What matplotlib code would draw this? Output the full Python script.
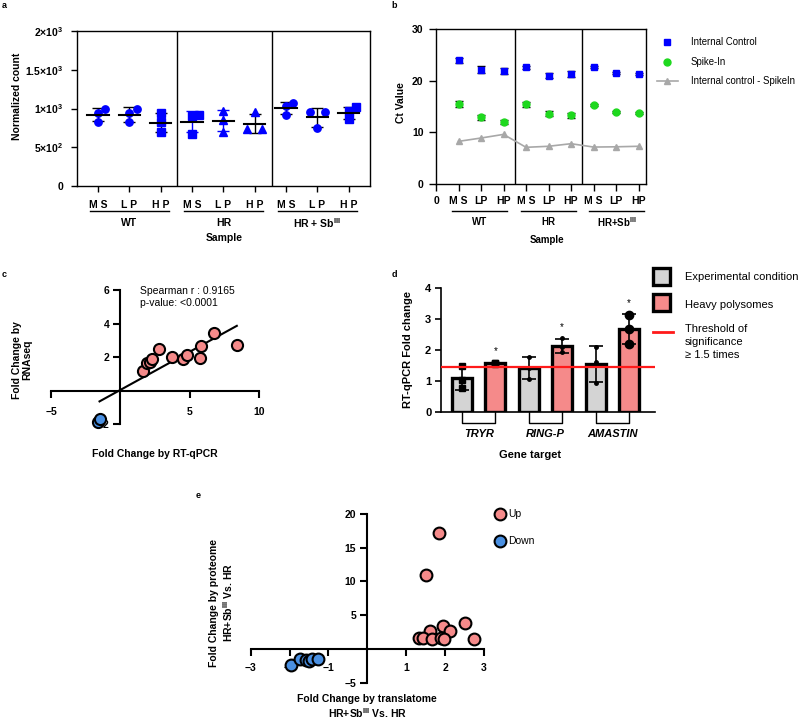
import numpy as np
import matplotlib.pyplot as plt
from matplotlib.patches import Rectangle
from matplotlib.lines import Line2D

plt.rcParams['font.family'] = ['Liberation Sans', 'DejaVu Sans']
plt.rcParams['mathtext.fontset'] = 'custom'
plt.rcParams['mathtext.rm'] = 'Liberation Sans'
plt.rcParams['mathtext.bf'] = 'Liberation Sans:bold'
plt.rcParams['axes.linewidth'] = 1.0
plt.rcParams['xtick.major.width'] = 1.0
plt.rcParams['ytick.major.width'] = 1.0

BLUE = '#0000ff'
GREEN = '#1ed81e'
GREY = '#a8a8a8'
PINK = '#f58a8a'
LBLUE = '#4a90e2'
RED = '#ff1a1a'
BARGREY = '#d4d4d4'

# ---------------- data ----------------
# a: normalized counts, 3 replicates per fraction
a_groups = ['WT', 'HR', r'HR + Sb$^{\mathbf{III}}$']
a_fractions = ['M S', 'L P', 'H P']
a_values = [
    [944, 995, 823],    # WT MS
    [944, 1000, 820],   # WT LP
    [936, 823, 698],    # WT HP
    [901, 918, 677],    # HR MS
    [970, 858, 703],    # HR LP
    [953, 733, 733],    # HR HP
    [1030, 1073, 918],  # HR+Sb MS
    [953, 953, 746],    # HR+Sb LP
    [965, 1013, 862],   # HR+Sb HP
]
a_markers = ['o', 'o', 's', 's', '^', '^', 'o', 'o', 's']
a_jitter = [[0, .21, 0], [0, .23, 0], [0, 0, 0], [0, .22, 0], [0, 0, 0],
            [0, -.23, .23], [0, .23, 0], [-.23, .23, 0], [0, .23, 0]]
a_errcol = ['k', 'k', 'k', BLUE, BLUE, 'k', 'k', 'k', 'k']

# b: Ct values
b_groups = ['WT', 'HR', r'HR+Sb$^{\mathbf{III}}$']
b_fractions = ['M S', 'LP', 'HP']
b_ic = [23.95, 22.1, 21.9, 22.6, 21.0, 21.25, 22.6, 21.4, 21.25]
b_ic_err = [0.5, 0.7, 0.6, 0.3, 0.4, 0.6, 0.2, 0.2, 0.2]
b_spike = [15.5, 12.9, 12.0, 15.45, 13.6, 13.3, 15.3, 14.0, 13.7]
b_spike_err = [0.5, 0.5, 0.4, 0.5, 0.5, 0.5, 0.2, 0.2, 0.2]
b_diff = [8.25, 8.9, 9.6, 7.1, 7.3, 7.8, 7.15, 7.2, 7.3]

# c: RT-qPCR vs RNAseq
c_up_x = [1.63, 1.95, 2.12, 2.31, 2.76, 3.72, 4.49, 4.80, 5.72, 5.84, 6.78, 8.41]
c_up_y = [1.19, 1.62, 1.68, 1.88, 2.47, 2.00, 1.86, 2.14, 1.94, 2.63, 3.46, 2.73]
c_down_x = [-1.62, -1.50]
c_down_y = [-1.88, -1.68]
c_fit_x = [-1.5, 8.4]
c_fit_y = [-0.65, 3.86]

# d: polysome RT-qPCR
d_genes = ['TRYR', 'RING-P', 'AMASTIN']
d_exp = [[1.50, 1.02, 0.77], [1.76, 1.41, 1.07], [2.10, 1.60, 0.95]]
d_heavy = [[1.59, 1.57, 1.55], [2.38, 2.10, 1.93], [3.14, 2.69, 2.18]]
d_threshold = 1.45

# e: translatome vs proteome
e_up_x = [1.85, 1.50, 1.62, 1.94, 2.13, 2.50, 2.74, 1.34, 1.43, 1.66, 1.90, 1.97]
e_up_y = [17.2, 11.0, 2.6, 3.47, 2.6, 3.86, 1.49, 1.58, 1.58, 1.49, 1.58, 1.49]
e_down_x = [-1.97, -1.72, -1.58, -1.50, -1.42, -1.28]
e_down_y = [-2.4, -1.5, -1.6, -1.8, -1.5, -1.55]

# ---------------- figure ----------------
W, H = 800, 721
fig = plt.figure(figsize=(8, 7.21), dpi=100)


def box(l, t, r, b):
    return fig.add_axes([l / W, 1 - b / H, (r - l) / W, (b - t) / H])


def ftext(x, y, s, **kw):
    kw.setdefault('ha', 'center')
    kw.setdefault('va', 'center')
    fig.text(x / W, 1 - y / H, s, **kw)


def fline(xs, ys, **kw):
    fig.add_artist(Line2D([x / W for x in xs], [1 - y / H for y in ys], **kw))


TICK = dict(labelsize=7.5, width=1.0)

# ---- panel a
ax = box(77, 31, 370, 186)
pos = np.arange(1, 10)
for i, vals in enumerate(a_values):
    v = np.array(vals, dtype=float)
    m, sd = v.mean(), v.std(ddof=1)
    ax.plot(pos[i] + np.array(a_jitter[i]), v, a_markers[i], color=BLUE,
            ms=5.3 if a_markers[i] != '^' else 5.6, mec=BLUE, zorder=3)
    ax.errorbar(pos[i], m, yerr=sd, fmt='none', ecolor=a_errcol[i],
                elinewidth=1, capsize=4, capthick=1, zorder=2)
    ax.plot([pos[i] - 0.34, pos[i] + 0.34], [m, m], color='k', lw=1.5, zorder=4)
for s in [3.52, 6.55]:
    ax.axvline(s, color='k', lw=1)
ax.set_xlim(0.33, 9.68)
ax.set_ylim(0, 2000)
ax.set_yticks([0, 500, 1000, 1500, 2000])
ax.set_yticklabels(['0', r'5×10$^{\mathbf{2}}$', r'1×10$^{\mathbf{3}}$',
                    r'1.5×10$^{\mathbf{3}}$', r'2×10$^{\mathbf{3}}$'])
ax.set_xticks(pos)
ax.set_xticklabels(a_fractions * 3)
ax.tick_params(length=4, pad=6, **TICK)
for lab in ax.get_xticklabels() + ax.get_yticklabels():
    lab.set_fontweight('bold')
tr = ax.get_xaxis_transform()
for g, c in zip(a_groups, [2, 5, 8]):
    ax.plot([c - 1.27, c + 1.27], [-0.161, -0.161], color='k', lw=1,
            transform=tr, clip_on=False)
    ax.text(c, -0.24, g, transform=tr, ha='center', va='center',
            fontsize=7.5, fontweight='bold')
ftext(224, 238, 'Sample', fontsize=7.5, fontweight='bold')
ftext(17, 96, 'Normalized count', rotation=90, fontsize=7.5, fontweight='bold')

# ---- panel b
ax = box(436, 29, 646, 184)
ax.errorbar(pos, b_ic, yerr=b_ic_err, fmt='s', color=BLUE, ms=5,
            ecolor='k', elinewidth=1, capsize=3, zorder=3)
ax.errorbar(pos, b_spike, yerr=b_spike_err, fmt='o', color=GREEN, ms=5,
            ecolor='k', elinewidth=1, capsize=3, zorder=3)
ax.plot(pos, b_diff, '-^', color=GREY, ms=5, lw=1.2, zorder=3)
for s in [3.5, 6.5]:
    ax.axvline(s, color='k', lw=1)
ax.set_xlim(0, 9.33)
ax.set_ylim(0, 30)
ax.set_yticks([0, 10, 20, 30])
ax.set_xticks(np.arange(0, 10))
ax.set_xticklabels(['0'] + b_fractions * 3)
ax.tick_params(length=5, pad=4, **TICK)
for lab in ax.get_xticklabels() + ax.get_yticklabels():
    lab.set_fontweight('bold')
tr = ax.get_xaxis_transform()
for g, c in zip(b_groups, [1.95, 5.0, 8.02]):
    ax.plot([c - 1.22, c + 1.22], [-0.174, -0.174], color='k', lw=1,
            transform=tr, clip_on=False)
    ax.text(c, -0.245, g, transform=tr, ha='center', va='center',
            fontsize=7, fontweight='bold')
ftext(547, 240, 'Sample', fontsize=7, fontweight='bold')
ftext(401, 103, 'Ct Value', rotation=90, fontsize=7.5, fontweight='bold')
# legend b
fline([667], [42], marker='s', color=BLUE, ms=5, ls='none')
fline([667], [62], marker='o', color=GREEN, ms=5, ls='none')
fline([657, 667, 678], [81, 81, 81], color=GREY, lw=1.2, marker='^', markevery=[1], ms=5)
for y, s in zip([42, 62, 81], ['Internal Control', 'Spike-In', 'Internal control - SpikeIn']):
    ftext(691, y, s, ha='left', fontsize=6.9)

# ---- panel c
ax = box(51, 290, 259, 424)
ax.plot(c_fit_x, c_fit_y, color='k', lw=1.5, zorder=2)
ax.plot(c_up_x, c_up_y, 'o', color=PINK, mec='k', mew=1.5, ms=8, clip_on=False, zorder=3)
ax.plot(c_down_x, c_down_y, 'o', color=LBLUE, mec='k', mew=1.5, ms=8, clip_on=False, zorder=3)
ax.set_xlim(-5, 10)
ax.set_ylim(-2, 6)
for s in ['top', 'right']:
    ax.spines[s].set_visible(False)
ax.spines['left'].set_position(('data', 0))
ax.spines['bottom'].set_position(('data', 0))
ax.spines['left'].set_linewidth(1.5)
ax.spines['bottom'].set_linewidth(1.5)
ax.set_xticks([-5, 5, 10])
ax.set_yticks([-2, 2, 4, 6])
ax.tick_params(axis='x', length=5, pad=7, width=1.5, labelsize=7.5)
ax.tick_params(axis='y', length=5, pad=3, width=1.5, labelsize=7.5)
for lab in ax.get_xticklabels() + ax.get_yticklabels():
    lab.set_fontweight('bold')
ftext(140, 291, 'Spearman r : 0.9165', ha='left', fontsize=7.5)
ftext(140, 303, 'p-value: <0.0001', ha='left', fontsize=7.5)
ftext(155, 454, 'Fold Change by RT-qPCR', fontsize=7.5, fontweight='bold')
ftext(22, 360, 'Fold Change by\nRNAseq', rotation=90, fontsize=7.5,
      fontweight='bold', linespacing=1.1)

# ---- panel d
ax = box(441, 288, 655, 412)
for i, gene in enumerate(d_genes):
    for j, (vals, col) in enumerate([(d_exp[i], BARGREY), (d_heavy[i], PINK)]):
        x = 2 * i + j
        v = np.array(vals)
        m, sd = v.mean(), v.std(ddof=1)
        ax.bar(x, m, width=0.6, color=col, edgecolor='k', linewidth=2.4, zorder=2)
        ax.errorbar(x, m, yerr=sd, fmt='none', ecolor='k', elinewidth=1.2,
                    capsize=5, capthick=1.2, zorder=3)
        mk = 's' if i == 0 else ('o' if (i == 2 and j == 1) else '.')
        ms = 5 if i == 0 else (6 if mk == 'o' else 5)
        ax.plot([x] * 3, v, mk, color='k', ms=ms, zorder=4)
        if j == 1:
            ax.text(x, m + sd + 0.37, '*', ha='center', va='center', fontsize=7)
ax.axhline(d_threshold, color=RED, lw=1.6, zorder=5)
ax.set_xlim(-0.63, 5.78)
ax.set_ylim(0, 4)
for s in ['top', 'right']:
    ax.spines[s].set_visible(False)
ax.spines['left'].set_linewidth(1.2)
ax.spines['bottom'].set_linewidth(1.2)
ax.set_xticks([])
ax.set_yticks([0, 1, 2, 3, 4])
ax.tick_params(axis='y', length=4, pad=3, labelsize=8, width=1.2)
for lab in ax.get_yticklabels():
    lab.set_fontweight('bold')
tr = ax.get_xaxis_transform()
for i, gene in enumerate(d_genes):
    x0, x1 = 2 * i, 2 * i + 1
    ax.plot([x0, x0, x1, x1], [0, -0.089, -0.089, 0], color='k', lw=1,
            transform=tr, clip_on=False)
    ax.text(x0 + 0.5, -0.175, gene, transform=tr, ha='center', va='center',
            fontsize=8, fontweight='bold', fontstyle='italic')
ftext(530, 455, 'Gene target', fontsize=8, fontweight='bold')
ftext(408, 350, 'RT-qPCR Fold change', rotation=90, fontsize=8, fontweight='bold')
# legend d
fig.add_artist(Rectangle((653 / W, 1 - 285 / H), 17 / W, 17 / H, facecolor=BARGREY,
                         edgecolor='k', linewidth=2.4, transform=fig.transFigure))
fig.add_artist(Rectangle((653 / W, 1 - 311 / H), 17 / W, 17 / H, facecolor=PINK,
                         edgecolor='k', linewidth=2.4, transform=fig.transFigure))
fline([653, 673], [332, 332], color=RED, lw=2)
ftext(685, 277, 'Experimental condition', ha='left', fontsize=8)
ftext(685, 305, 'Heavy polysomes', ha='left', fontsize=8)
ftext(685, 342, 'Threshold of\nsignificance\n≥ 1.5 times', ha='left',
      fontsize=8, linespacing=1.4)

# ---- panel e
ax = box(250.7, 514, 484, 682.7)
ax.plot(e_up_x, e_up_y, 'o', color=PINK, mec='k', mew=1.5, ms=8.5, clip_on=False, zorder=3)
ax.plot(e_down_x, e_down_y, 'o', color=LBLUE, mec='k', mew=1.5, ms=8.5, clip_on=False, zorder=3)
ax.set_xlim(-3, 3)
ax.set_ylim(-5, 20)
for s in ['top', 'right']:
    ax.spines[s].set_visible(False)
ax.spines['left'].set_position(('data', 0))
ax.spines['bottom'].set_position(('data', 0))
ax.spines['left'].set_linewidth(1.5)
ax.spines['bottom'].set_linewidth(1.5)
ax.set_xticks([-3, -2, -1, 1, 2, 3])
ax.set_yticks([-5, 5, 10, 15, 20])
ax.tick_params(axis='x', length=5, pad=5, width=1.5, labelsize=7.5)
ax.tick_params(axis='y', length=5, pad=3, width=1.5, labelsize=7.5)
for lab in ax.get_xticklabels() + ax.get_yticklabels():
    lab.set_fontweight('bold')
ftext(367, 707, 'Fold Change by translatome\n' + r'HR+Sb$^{\mathbf{III}}$ Vs. HR',
      fontsize=7.5, fontweight='bold', linespacing=1.15)
ftext(222, 603, 'Fold Change by proteome\n' + r'HR+Sb$^{\mathbf{III}}$ Vs. HR',
      rotation=90, fontsize=7.5, fontweight='bold', linespacing=1.2)
fline([500], [514], marker='o', color=PINK, mec='k', mew=1.5, ms=8.5, ls='none')
fline([500], [541], marker='o', color=LBLUE, mec='k', mew=1.5, ms=8.5, ls='none')
ftext(508, 514, 'Up', ha='left', fontsize=7.5)
ftext(508, 541, 'Down', ha='left', fontsize=7.5)

# panel letters
for x, y, s in [(4, 5, 'a'), (394, 5, 'b'), (4, 274, 'c'), (394, 274, 'd'), (198, 495, 'e')]:
    ftext(x, y, s, fontsize=6.5, fontweight='bold')

fig.savefig('out.png', dpi=100)
